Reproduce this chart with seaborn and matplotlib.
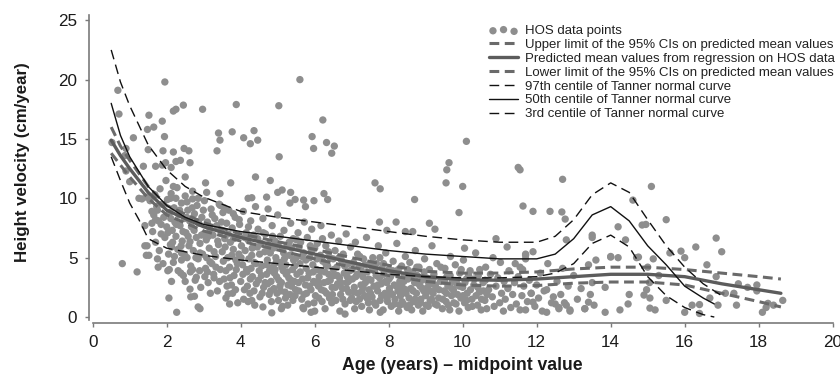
import matplotlib
matplotlib.use("Agg")
import matplotlib.pyplot as plt
import seaborn as sns
import numpy as np
import pandas as pd

# ---------------- data ----------------
# HOS data points: (age midpoint, height velocity)
hos_sparse = [
    (0.68, 19.1), (0.71, 17.1), (0.52, 14.7), (0.9, 14.2), (1.1, 15.1), (1.52, 17.0), (1.48, 15.8),
    (1.65, 16.0), (1.88, 16.5), (1.95, 19.8), (1.94, 15.2), (2.18, 17.35), (2.25, 17.5), (2.45, 17.85),
    (1.5, 14.1), (1.9, 14.0), (2.18, 13.9), (2.47, 14.2), (2.6, 14.0), (1.37, 12.7), (1.7, 12.7),
    (1.88, 12.8), (1.97, 13.0), (2.12, 12.6), (2.25, 13.1), (2.37, 13.2), (2.63, 13.0), (2.18, 11.0),
    (2.5, 11.8), (0.87, 13.6), (0.9, 12.3), (1.0, 11.4), (2.97, 17.5), (3.05, 11.3), (3.36, 14.0),
    (3.4, 15.5), (3.44, 14.9), (3.77, 15.6), (3.73, 11.3), (3.88, 17.9), (4.08, 15.1), (4.26, 14.6),
    (4.36, 15.7), (4.46, 14.9), (4.4, 11.8), (4.8, 11.5), (5.03, 17.8), (5.04, 13.5), (5.6, 20.0),
    (5.93, 15.2), (5.97, 14.2), (6.22, 16.6), (6.32, 14.7), (6.46, 13.8), (6.53, 14.4), (7.63, 11.3),
    (7.77, 10.8), (10.1, 14.8), (9.63, 13.0), (9.57, 12.4), (9.55, 11.3), (10.0, 11.0), (11.5, 12.6),
    (11.55, 12.4), (12.7, 11.6), (15.1, 11.0), (8.7, 9.9), (9.9, 8.8), (7.75, 8.0), (8.2, 8.0),
    (7.95, 7.3), (8.45, 7.2), (8.65, 7.2), (9.1, 7.9), (9.25, 7.4), (10.9, 6.6), (10.05, 5.8),
    (11.63, 9.35), (11.9, 8.9), (12.36, 8.9), (12.68, 8.85), (12.77, 8.25), (12.8, 6.5), (13.5, 6.7),
    (14.2, 7.6), (14.4, 6.5), (14.6, 9.85), (14.0, 5.1), (14.2, 5.0), (11.7, 5.2), (14.85, 7.75),
    (14.95, 7.8), (15.5, 8.2), (16.85, 6.65), (16.3, 5.9), (17.0, 5.5), (15.9, 5.55), (16.0, 5.0),
    (16.6, 4.4), (15.6, 5.4), (14.7, 5.0), (16.85, 3.4), (16.68, 1.6), (16.2, 1.0), (16.4, 1.05),
    (16.0, 0.4), (16.4, 0.3), (17.1, 2.0), (17.4, 1.0), (17.95, 2.7), (17.95, 2.2), (18.1, 0.4),
    (18.25, 1.15), (15.06, 0.75), (15.2, 0.6), (14.9, 1.85), (15.06, 1.6), (17.45, 2.8), (17.33, 2.0),
    (17.7, 2.5), (18.65, 1.4), (18.4, 1.0), (18.2, 0.8), (16.9, 1.0), (15.5, 1.4), (14.97, 2.3),
    (15.05, 2.9), (14.47, 1.1), (14.5, 1.9), (14.25, 0.6), (13.85, 0.4), (13.85, 2.5), (13.5, 2.9),
    (13.4, 1.25), (13.55, 1.0), (13.3, 0.7), (12.8, 1.0), (12.6, 0.7), (12.5, 1.1), (12.9, 0.5),
    (12.27, 0.4), (12.27, 2.3), (12.45, 1.7), (11.9, 1.25), (11.85, 2.0), (11.7, 0.6), (11.7, 5.3),
    (11.55, 4.2), (13.6, 4.8), (14.0, 5.05), (13.5, 6.9), (14.75, 5.05), (15.15, 4.9), (15.3, 3.5),
    (15.0, 4.2), (0.8, 4.5), (1.2, 3.8), (1.41, 6.0), (1.47, 6.0), (1.45, 5.2), (1.52, 5.2),
    (1.75, 4.9), (1.77, 4.2), (2.03, 3.9), (2.13, 3.0), (2.06, 1.6), (2.27, 0.4), (2.4, 4.8),
    (2.38, 3.7), (2.5, 3.0), (2.7, 4.0), (2.63, 2.35), (2.65, 1.7), (2.75, 1.75), (2.85, 0.85),
    (2.8, 3.35), (3.1, 3.8), (3.28, 3.3), (3.17, 4.65), (2.9, 5.4), (2.63, 6.35), (2.4, 5.4),
    (2.13, 5.9), (1.85, 7.8), (1.65, 8.6), (1.73, 9.3), (1.41, 7.7), (1.6, 7.9), (1.7, 8.2),
    (1.33, 9.95), (1.45, 10.1), (1.25, 10.0), (2.1, 10.0), (2.25, 10.0), (2.55, 9.7), (2.7, 9.95),
    (2.85, 10.0), (3.08, 10.5), (3.44, 10.4), (3.45, 9.4), (3.55, 9.2), (3.8, 8.7), (4.2, 10.0),
    (4.3, 10.05), (4.7, 10.1), (5.0, 10.5), (5.12, 10.7), (5.35, 10.5), (5.47, 9.9), (5.33, 9.6),
    (5.7, 9.85), (5.75, 9.3), (5.98, 9.8), (6.25, 10.4), (6.35, 9.9), (4.74, 9.1), (2.9, 0.7),
    (3.66, 1.95), (3.7, 1.1), (4.2, 1.3), (4.3, 1.4), (4.6, 0.85), (4.84, 0.35), (5.1, 0.7),
    (5.7, 0.7), (5.9, 0.4), (6.0, 0.5), (6.82, 0.25), (7.77, 0.4), (8.3, 1.0),
]

hos_dense = [
    (1.55, 9.8), (1.6, 8.9), (1.62, 7.2), (1.68, 10.3), (1.7, 6.3), (1.75, 9.0), (1.78, 8.1), (1.8, 5.6),
    (1.82, 10.8), (1.85, 7.0), (1.88, 9.5), (1.9, 4.5), (1.92, 8.4), (1.95, 6.7), (1.98, 11.5), (2.0, 7.6),
    (2.02, 9.9), (2.05, 5.3), (2.08, 8.8), (2.1, 6.1), (2.12, 10.4), (2.15, 7.3), (2.18, 4.6), (2.2, 9.2),
    (2.22, 8.0), (2.25, 6.8), (2.28, 10.9), (2.3, 5.7), (2.33, 8.6), (2.36, 7.7), (2.4, 9.6), (2.42, 6.4),
    (2.45, 3.5), (2.48, 8.3), (2.5, 10.2),
    (2.52, 7.1), (2.55, 5.0), (2.57, 9.0), (2.6, 6.0), (2.62, 8.1), (2.65, 4.3), (2.67, 7.6), (2.7, 10.6),
    (2.72, 5.6), (2.75, 8.7), (2.77, 3.1), (2.8, 6.7), (2.82, 9.4), (2.85, 4.9), (2.87, 7.9), (2.9, 6.2),
    (2.92, 2.5), (2.95, 8.4), (2.97, 5.3), (3.0, 7.0), (3.02, 9.8), (3.05, 4.1), (3.07, 6.5), (3.1, 8.0),
    (3.12, 2.9), (3.15, 5.8), (3.17, 7.4), (3.2, 9.1), (3.22, 4.5), (3.25, 6.9), (3.27, 3.6), (3.3, 8.3),
    (3.32, 5.1), (3.35, 7.7), (3.37, 2.2), (3.4, 6.1), (3.42, 9.5), (3.45, 4.0), (3.47, 7.2), (3.5, 5.5),
    (3.52, 8.8), (3.55, 3.2), (3.57, 6.6), (3.6, 1.6), (3.62, 7.9),
    (3.65, 5.0), (3.68, 9.0), (3.7, 4.2), (3.72, 6.3), (3.75, 2.7), (3.77, 7.5), (3.8, 5.7), (3.82, 3.5),
    (3.85, 8.4), (3.87, 4.8), (3.9, 6.8), (3.92, 1.2), (3.95, 5.3), (3.97, 7.8), (4.0, 3.0), (4.02, 6.0),
    (4.05, 4.4), (4.07, 8.9), (4.1, 2.3), (4.12, 5.6), (4.15, 7.1), (4.17, 3.8), (4.2, 6.5), (4.22, 4.9),
    (4.25, 2.0), (4.27, 8.1), (4.3, 5.2), (4.32, 3.4), (4.35, 6.9), (4.37, 4.6), (4.4, 9.3), (4.42, 2.8),
    (4.45, 5.9), (4.47, 7.4), (4.5, 3.9), (4.52, 1.7), (4.55, 6.2), (4.57, 4.3), (4.6, 8.3), (4.62, 2.5),
    (4.65, 5.5), (3.6, 3.9), (3.78, 2.0), (3.88, 4.0), (4.08, 1.5), (4.18, 2.6), (4.28, 4.1), (4.38, 1.0),
    (4.48, 3.1), (4.58, 2.0),
    (4.67, 7.0), (4.7, 3.6), (4.72, 4.8), (4.75, 6.1), (4.77, 1.9), (4.8, 5.4), (4.82, 3.0), (4.85, 7.7),
    (4.87, 4.2), (4.9, 2.4), (4.92, 6.4), (4.95, 5.0), (4.97, 3.4), (5.0, 8.6), (5.02, 1.4), (5.05, 4.6),
    (5.07, 6.8), (5.1, 2.9), (5.12, 5.7), (5.15, 3.9), (5.17, 7.3), (5.2, 2.1), (5.22, 4.4), (5.25, 6.0),
    (5.27, 1.0), (5.3, 3.3), (5.32, 5.2), (5.35, 7.9), (5.37, 2.6), (5.4, 4.0), (5.42, 6.6), (5.45, 3.0),
    (5.47, 1.8), (5.5, 5.0), (4.73, 2.8), (4.83, 1.3), (4.93, 4.0), (5.03, 3.1), (5.13, 0.9), (5.23, 3.6),
    (5.33, 1.9), (5.43, 4.8), (5.08, 2.2), (5.18, 4.9), (5.28, 2.7), (5.38, 5.8), (4.78, 3.9), (4.88, 5.8),
    (4.98, 2.0), (5.48, 2.3),
    (5.52, 3.6), (5.55, 7.1), (5.57, 2.2), (5.6, 4.5), (5.62, 6.3), (5.65, 1.5), (5.67, 3.2), (5.7, 5.4),
    (5.72, 8.0), (5.75, 2.7), (5.77, 4.1), (5.8, 6.7), (5.82, 1.1), (5.85, 3.7), (5.87, 5.0), (5.9, 2.3),
    (5.92, 7.4), (5.95, 4.4), (5.97, 3.0), (6.0, 5.8), (6.02, 1.8), (6.05, 4.0), (6.07, 6.2), (6.1, 2.6),
    (6.12, 3.4), (6.15, 5.2), (6.17, 7.7), (6.2, 1.3), (6.22, 4.7), (6.25, 2.9), (6.27, 3.8), (6.3, 6.0),
    (6.32, 2.0), (6.35, 4.3), (6.37, 5.5), (6.4, 1.6), (6.42, 3.1), (6.45, 6.9), (6.47, 2.5), (6.5, 4.9),
    (5.58, 5.9), (5.68, 0.8), (5.78, 2.0), (5.88, 6.0), (5.98, 1.2), (6.08, 3.0), (6.18, 2.3), (6.28, 0.7),
    (6.38, 3.6), (6.48, 1.9),
    (6.52, 3.5), (6.55, 5.6), (6.57, 1.4), (6.6, 4.2), (6.62, 2.8), (6.65, 6.4), (6.67, 3.3), (6.7, 1.9),
    (6.72, 4.8), (6.75, 2.4), (6.77, 5.3), (6.8, 3.7), (6.82, 1.1), (6.85, 7.0), (6.87, 2.9), (6.9, 4.5),
    (6.92, 2.1), (6.95, 3.9), (6.97, 5.9), (7.0, 1.6), (7.02, 3.2), (7.05, 4.6), (7.07, 2.5), (7.1, 6.3),
    (7.12, 1.3), (7.15, 3.6), (7.17, 2.0), (7.2, 4.3), (7.22, 5.1), (7.25, 2.7), (7.27, 0.9), (7.3, 3.4),
    (7.32, 4.9), (7.35, 1.8), (7.37, 2.9), (7.4, 6.7), (7.42, 3.8), (7.45, 1.2), (7.47, 2.3), (7.5, 4.4),
    (6.68, 0.5), (6.88, 3.4), (7.08, 0.7), (7.28, 2.2), (7.48, 0.6),
    (7.52, 3.1), (7.55, 1.7), (7.57, 5.0), (7.6, 2.6), (7.62, 3.9), (7.65, 1.0), (7.67, 4.5), (7.7, 2.2),
    (7.72, 6.0), (7.75, 3.3), (7.77, 1.4), (7.8, 2.8), (7.82, 4.1), (7.85, 0.6), (7.87, 3.6), (7.9, 2.0),
    (7.92, 5.4), (7.95, 2.9), (7.97, 1.3), (8.0, 4.0), (8.02, 2.4), (8.05, 3.4), (8.07, 0.9), (8.1, 1.9),
    (8.12, 4.7), (8.15, 2.7), (8.17, 1.5), (8.2, 3.7), (8.22, 6.2), (8.25, 2.2), (8.27, 0.5), (8.3, 3.0),
    (8.32, 1.8), (8.35, 4.3), (8.37, 2.5), (8.4, 1.1), (8.42, 3.5), (8.45, 5.1), (8.47, 2.0), (8.5, 0.8),
    (8.52, 3.2), (8.55, 1.6), (8.57, 4.6), (8.6, 2.4), (8.62, 0.6), (8.65, 3.8), (8.67, 1.3), (8.7, 2.9),
    (8.72, 5.6), (8.75, 2.0), (8.77, 3.5), (8.8, 1.0), (8.82, 4.2), (8.85, 2.6), (8.87, 1.5), (8.9, 3.1),
    (8.92, 0.5), (8.95, 2.2), (8.97, 4.9), (9.0, 1.8), (9.02, 3.3), (9.05, 2.5), (9.07, 0.9), (9.1, 4.0),
    (9.12, 1.4), (9.15, 2.8), (9.17, 6.0), (9.2, 2.0), (9.22, 3.6), (9.25, 1.1), (9.27, 2.4), (9.3, 4.5),
    (9.35, 1.6), (9.4, 3.0), (9.45, 0.7),
    (9.5, 2.2), (9.52, 4.1), (9.55, 1.3), (9.57, 3.4), (9.6, 2.6), (9.65, 0.6), (9.67, 5.1), (9.7, 1.8),
    (9.72, 3.0), (9.75, 2.3), (9.8, 4.4), (9.82, 1.1), (9.85, 2.8), (9.9, 0.5), (9.92, 3.7), (9.95, 1.6),
    (10.0, 2.5), (10.02, 4.8), (10.05, 1.2), (10.1, 3.2), (10.12, 2.0), (10.15, 0.8), (10.2, 3.9),
    (10.25, 1.5), (10.3, 2.7), (10.35, 5.4), (10.4, 1.0), (10.42, 3.5), (10.45, 2.1), (10.5, 0.6),
    (10.55, 2.9), (10.6, 1.4), (10.62, 4.2), (10.65, 0.7), (10.7, 2.3), (10.75, 3.6), (10.8, 1.7),
    (10.82, 5.0), (10.85, 0.9), (10.9, 2.6), (10.95, 3.3), (11.0, 1.2), (11.02, 4.6), (11.05, 2.0),
    (11.1, 0.5), (11.12, 3.0), (11.15, 1.5), (11.2, 5.9), (11.22, 2.4), (11.25, 3.9), (11.3, 0.8),
    (11.35, 1.9), (11.4, 2.9), (11.42, 4.5), (11.45, 1.1),
    (11.5, 3.4), (11.55, 0.6), (11.6, 1.8), (11.62, 4.0), (11.65, 2.6), (11.7, 4.9), (11.75, 1.3),
    (11.8, 3.1), (11.85, 2.0), (11.9, 5.5), (11.95, 0.9), (12.0, 2.7), (12.05, 1.6), (12.1, 3.7),
    (12.15, 0.5), (12.2, 2.2), (12.3, 4.5), (12.4, 1.2),
    (12.55, 3.0), (12.6, 0.8), (12.65, 1.9), (12.7, 4.1), (12.75, 1.2), (12.85, 2.6), (12.9, 0.6),
    (13.0, 3.5), (13.1, 1.5), (13.2, 2.4), (13.3, 0.7), (13.4, 4.4), (13.45, 1.9),
]

hos_dense_extra = [
    (2.03, 7.1), (2.07, 4.0), (2.11, 8.3), (2.16, 6.3), (2.21, 5.1), (2.26, 7.8), (2.31, 3.9), (2.35, 9.0),
    (2.39, 6.0), (2.44, 7.2), (2.49, 5.2), (2.54, 8.4), (2.58, 6.8), (2.64, 3.8), (2.69, 9.2), (2.74, 7.3),
    (2.79, 5.0), (2.84, 8.0), (2.89, 3.9), (2.94, 6.9), (2.99, 9.0),
    (3.03, 3.4), (3.08, 5.0), (3.13, 6.8), (3.18, 2.0), (3.23, 8.6), (3.28, 5.5), (3.33, 4.2), (3.38, 6.4),
    (3.43, 3.0), (3.48, 8.0), (3.53, 4.7), (3.58, 5.9), (3.63, 2.6), (3.66, 7.0), (3.71, 3.3), (3.76, 5.2),
    (3.81, 6.6), (3.86, 2.3), (3.91, 4.5), (3.96, 8.2), (4.01, 5.0), (4.06, 3.6), (4.11, 6.7), (4.16, 4.0),
    (4.21, 7.6), (4.26, 3.2), (4.31, 5.8), (4.36, 2.2), (4.41, 4.5), (4.46, 6.6), (4.51, 5.3), (4.56, 3.5),
    (4.61, 7.1), (4.66, 2.9), (4.71, 4.4), (4.76, 5.7), (4.81, 2.2), (4.86, 6.8), (4.91, 3.7), (4.96, 4.6),
    (5.01, 6.1), (5.06, 2.6), (5.11, 4.2), (5.16, 5.4), (5.21, 1.6), (5.26, 3.8), (5.31, 6.3), (5.36, 3.1),
    (5.41, 1.4), (5.46, 4.3), (5.51, 6.5), (5.56, 2.9), (5.61, 3.8), (5.66, 5.1), (5.71, 1.9), (5.76, 4.8),
    (5.81, 3.3), (5.86, 2.6), (5.91, 5.5), (5.96, 3.8), (6.01, 2.9), (6.06, 4.9), (6.11, 1.6), (6.16, 3.9),
    (6.21, 6.6), (6.26, 2.2), (6.31, 4.4), (6.36, 3.0), (6.41, 5.0), (6.46, 1.2), (6.51, 4.0), (6.56, 2.5),
    (6.61, 3.5), (6.66, 5.0), (6.71, 2.9), (6.76, 1.5), (6.81, 4.3), (6.86, 2.4), (6.91, 3.0), (6.96, 1.4),
    (7.01, 4.0), (7.06, 2.1), (7.11, 3.4), (7.16, 5.3), (7.21, 1.5), (7.26, 3.9), (7.31, 2.5), (7.36, 4.4),
    (7.41, 1.6), (7.46, 3.2), (7.51, 2.0), (7.56, 4.2), (7.61, 1.2), (7.66, 3.5), (7.71, 2.7), (7.76, 5.0),
    (7.81, 1.8), (7.86, 4.5), (7.91, 3.0), (7.96, 1.6), (8.01, 3.2), (8.06, 2.0), (8.11, 3.9), (8.16, 1.1),
    (8.21, 2.6), (8.26, 4.0), (8.31, 2.0), (8.36, 1.3), (8.41, 3.0), (8.46, 2.3), (8.51, 4.0), (8.56, 1.0),
    (8.61, 3.4), (8.66, 2.2), (8.71, 1.5), (8.76, 4.2), (8.81, 2.8), (8.86, 1.2), (8.91, 2.4), (8.96, 3.8),
    (9.01, 1.0), (9.06, 3.0), (9.11, 2.2), (9.16, 1.5), (9.21, 3.3), (9.26, 2.7), (9.31, 1.0), (9.36, 2.3),
    (9.41, 4.2), (9.46, 1.5), (9.51, 3.0), (9.56, 2.0), (9.61, 1.0), (9.66, 3.5), (9.71, 2.4), (9.76, 1.2),
    (9.81, 3.0), (9.86, 1.9), (9.91, 2.6), (9.96, 4.0), (10.01, 1.8), (10.06, 2.9), (10.11, 1.4),
    (10.16, 3.5), (10.21, 2.3), (10.26, 0.9), (10.31, 3.2), (10.36, 1.8), (10.41, 2.5), (10.46, 4.0),
    (10.51, 1.5), (10.56, 2.2), (10.61, 3.1), (10.66, 1.9),
]

# Regression on HOS data (mean and 95% CI)
reg_age = [0.5, 0.75, 1, 1.5, 2, 3, 4, 5, 6, 7, 8, 9, 10, 11, 12, 13, 14, 15, 16, 17, 18, 18.6]
reg_mean = [14.9, 13.6, 12.5, 10.5, 9.0, 7.6, 6.7, 6.0, 5.3, 4.6, 3.9, 3.4, 3.15, 3.1, 3.2, 3.4, 3.6, 3.6, 3.4, 2.8, 2.3, 2.0]
reg_upper = [16.0, 14.4, 13.2, 11.0, 9.4, 7.95, 7.0, 6.35, 5.7, 5.0, 4.35, 3.85, 3.7, 3.7, 3.8, 4.05, 4.2, 4.2, 4.0, 3.7, 3.4, 3.2]
reg_lower = [13.8, 12.8, 11.8, 10.0, 8.6, 7.25, 6.4, 5.65, 4.9, 4.2, 3.5, 3.0, 2.7, 2.6, 2.65, 2.85, 2.95, 2.95, 2.7, 2.0, 1.3, 0.85]

# Tanner normal curves
t97_age = [0.5, 0.75, 1, 1.5, 2, 2.5, 3, 4, 5, 6, 7, 8, 9, 10, 11, 12, 12.5, 13, 13.5, 14, 14.5, 15, 15.5, 16, 16.5, 17]
t97_vel = [22.5, 19.8, 17.8, 14.5, 12.4, 11.0, 10.1, 8.9, 8.4, 8.0, 7.6, 7.2, 6.8, 6.5, 6.3, 6.3, 6.8, 8.2, 10.3, 11.3, 10.5, 8.2, 6.0, 4.2, 2.8, 1.8]
t50_age = [0.5, 0.75, 1, 1.5, 2, 2.5, 3, 4, 5, 6, 7, 8, 9, 10, 11, 12, 12.5, 13, 13.5, 14, 14.5, 15, 15.5, 16, 16.5, 16.8]
t50_vel = [18.0, 15.3, 13.5, 11.0, 9.4, 8.4, 7.8, 7.2, 6.8, 6.4, 6.0, 5.6, 5.3, 5.1, 4.9, 4.9, 5.3, 6.6, 8.6, 9.3, 8.1, 6.0, 4.4, 2.6, 1.6, 1.1]
t3_age = [0.5, 0.75, 1, 1.25, 1.5, 2, 3, 4, 5, 6, 7, 8, 9, 10, 11, 12, 12.5, 13, 13.5, 14, 14.5, 15, 15.5, 16, 16.5, 16.8]
t3_vel = [13.5, 11.5, 9.6, 8.2, 6.6, 5.8, 5.2, 4.8, 4.5, 4.2, 3.9, 3.6, 3.4, 3.3, 3.3, 3.4, 3.7, 4.5, 6.2, 6.9, 5.9, 3.4, 1.8, 0.8, 0.2, 0.0]

x_ticks = [0, 2, 4, 6, 8, 10, 12, 14, 16, 18, 20]
y_ticks = [0, 5, 10, 15, 20, 25]

# ---------------- plot ----------------
sns.set_style("white")
plt.rcParams['font.family'] = ['Liberation Sans', 'DejaVu Sans']

fig = plt.figure(figsize=(8.4, 3.74), dpi=100)
ax = fig.add_axes([92.7 / 840, (374 - 320) / 374, 740 / 840, (320 - 15.5) / 374])

pts = pd.DataFrame(hos_sparse + hos_dense + hos_dense_extra, columns=["age", "vel"])
point_col = "#8e8e8e"
sns.scatterplot(data=pts, x="age", y="vel", ax=ax, color=point_col, s=28, linewidth=0,
                edgecolor="none", label="HOS data points", clip_on=False, zorder=2)

ci_col = "#6a6a6a"
mean_col = "#5c5c5c"
sns.lineplot(x=reg_age, y=reg_upper, ax=ax, color=ci_col, lw=2.2, linestyle=(0, (3.2, 1.8)),
             label="Upper limit of the 95% CIs on predicted mean values", zorder=3)
sns.lineplot(x=reg_age, y=reg_mean, ax=ax, color=mean_col, lw=2.4, linestyle="-",
             label="Predicted mean values from regression on HOS data", zorder=3)
sns.lineplot(x=reg_age, y=reg_lower, ax=ax, color=ci_col, lw=2.2, linestyle=(0, (3.2, 1.8)),
             label="Lower limit of the 95% CIs on predicted mean values", zorder=3)
sns.lineplot(x=t97_age, y=t97_vel, ax=ax, color="#111111", lw=1.0, linestyle=(0, (7, 4)),
             label="97th centile of Tanner normal curve", zorder=4)
sns.lineplot(x=t50_age, y=t50_vel, ax=ax, color="#111111", lw=1.0, linestyle="-",
             label="50th centile of Tanner normal curve", zorder=4)
sns.lineplot(x=t3_age, y=t3_vel, ax=ax, color="#111111", lw=1.0, linestyle=(0, (7, 4)),
             label="3rd centile of Tanner normal curve", zorder=4)

ax.set_xlim(0, 20)
ax.set_ylim(-0.25, 25.4)
ax.set_xticks(x_ticks)
ax.set_yticks(y_ticks)
ax.set_xticklabels([str(t) for t in x_ticks])
ax.set_yticklabels([str(t) for t in y_ticks])

for side in ["top", "right"]:
    ax.spines[side].set_visible(False)
spine_col = "#7a7a7a"
ax.spines["left"].set_position(("outward", 2.6))
ax.spines["bottom"].set_position(("outward", 2.2))
for side in ["left", "bottom"]:
    ax.spines[side].set_color(spine_col)
    ax.spines[side].set_linewidth(1.2)
ax.tick_params(axis="both", which="major", direction="out", length=3, width=1.0,
               color=spine_col, labelsize=12.3, labelcolor="#1a1a1a", pad=5.5,
               left=True, bottom=True)

ax.set_xlabel("Age (years) \u2013 midpoint value", fontsize=12.7, fontweight="bold",
              color="#1a1a1a", va="center")
ax.xaxis.set_label_coords(0.5, -0.148)
ax.set_ylabel("Height velocity (cm/year)", fontsize=12.2, fontweight="bold",
              color="#1a1a1a", va="center")
ax.yaxis.set_label_coords(-0.095, 0.519)

leg = ax.legend(loc="upper left", frameon=False,
                fontsize=9.5, scatterpoints=3, handlelength=2.2, handletextpad=0.55,
                labelspacing=0.12, borderaxespad=0, borderpad=0)
leg.set_bbox_to_anchor((489 / 840, (374 - 25) / 374), transform=fig.transFigure)
for t in leg.get_texts():
    t.set_color("#222222")

fig.savefig("out.png", dpi=100)
